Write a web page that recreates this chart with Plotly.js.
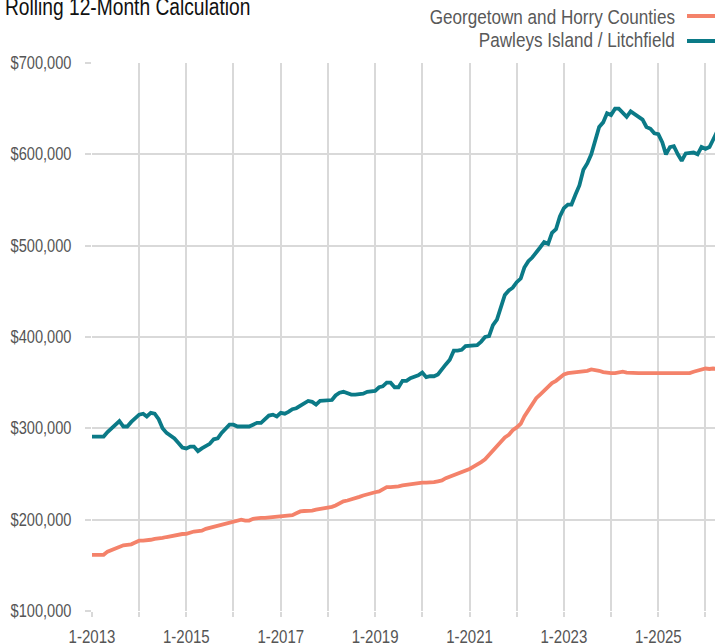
<!DOCTYPE html>
<html>
<head>
<meta charset="utf-8">
<script src="https://cdn.plot.ly/plotly-3.0.1.min.js"></script>
<style>
  html, body { margin: 0; padding: 0; overflow: hidden; background: #fff; width: 715px; height: 644px; }
  #chart { width: 740px; height: 644px; }
</style>
</head>
<body>
<div id="chart"></div>
<script>
// ---- Data (monthly, rolling 12-month median sales price, in $ thousands) ----
const startYear = 2013;
const seriesNames = ["Georgetown and Horry Counties", "Pawleys Island / Litchfield"];
const xTickLabels = ["1-2013", "1-2015", "1-2017", "1-2019", "1-2021", "1-2023", "1-2025"];
const yTickValues = [100000, 200000, 300000, 400000, 500000, 600000, 700000];
const yTickLabels = ["$100,000", "$200,000", "$300,000", "$400,000", "$500,000", "$600,000", "$700,000"];

const georgetownHorry = [
  161.5,161.5,161.5,161.5,165,167,168,171,172,172.5,173,175,           // 2013
  177,177,177,178,179,179,180,181,182,182.5,183.5,184.3,              // 2014
  184.5,186,187,187.5,188,190,191,192,193,195,196,197,                // 2015
  198,199,200,199,199,201,202,202,202,202.5,203,203.5,                // 2016
  203.7,203.7,204,205,207,209,209.5,209.5,210,211,211.5,212.5,        // 2017
  213,214,215.5,218,220,221,222,223,225,226.5,228,229,                // 2018
  230,231,233.5,235.6,235.6,235.6,236.5,237.5,238.3,238.5,239,240,    // 2019
  240.5,240.6,240.6,241,242,243,245.5,247,249,250.5,252,254,          // 2020
  255.5,258,260,263,266,271,276,281,286,290,293,298,                  // 2021
  301,305,313,320,326,333,337,341,346,349.5,352,355,                  // 2022
  359,360.5,361,361.5,361.5,363,363,364.5,364,363,361.5,360.5,        // 2023
  360.5,360.5,361.5,362,361,360.5,360.5,360.5,360.5,360.5,360.5,360.5,// 2024
  360.5,360.5,360.5,360.5,360.5,360.5,360.5,360.5,360.5,362,363,365,  // 2025
  365.5,365,365.5,365                                                 // 2026
];

const pawleysLitchfield = [
  291,291,291,291,296,300,303,308,302,302,307,311,                    // 2013
  315,316,313,317,316,310,300,295,292,289,284,279,                    // 2014
  278,280,280,275,278,281,283,288,289,295,299,304,                    // 2015
  304,302,302,302,302,304,306,306,310,314,315,313,                    // 2016
  317,316,318,321,322,325,327,330,329,326,330,330,                    // 2017
  330,331,336,339,340,338,337,337,337,338,340,340,                    // 2018
  341,345,346,350,350,345,345,352,352,355,356,358,                    // 2019
  361,356,357,357,359,365,370,375,385,385,386,390,                    // 2020
  390,390,391,395,400,401,413,419,432,446,451,454,                    // 2021
  460,464,476,483,487,492,498,504,502,514,518,532,                    // 2022
  541,545,545,556,566,583,590,600,615,630,635,645,                    // 2023
  643,650,650,645,641,647,644,642,638,630,628,623,                    // 2024
  622,613,600,608,609,600,593,601,602,602,600,608,                    // 2025
  606,608,616,625                                                     // 2026
];

// month axis categories
const months = [];
for (let i = 0; i < pawleysLitchfield.length; i++) {
  const y = startYear + Math.floor(i / 12);
  const m = (i % 12) + 1;
  months.push(y + "-" + String(m).padStart(2, "0") + "-01");
}
const xTickVals = xTickLabels.map(s => { const p = s.split("-"); return p[1] + "-" + String(p[0]).padStart(2,"0") + "-01"; });

const colorOrange = "#f4826a";
const colorTeal = "#0b7a87";
const gridColor = "#d9d9d9";
const fontFam = '"Liberation Sans", Arial, Helvetica, sans-serif';
const narrowScale = 0.835; // condensed look (reference uses a narrow Helvetica)

const traces = [
  { x: months, y: pawleysLitchfield.map(v => v * 1000), type: "scatter", mode: "lines",
    name: seriesNames[1], line: { color: colorTeal, width: 3.8 }, hoverinfo: "skip" },
  { x: months, y: georgetownHorry.map(v => v * 1000), type: "scatter", mode: "lines",
    name: seriesNames[0], line: { color: colorOrange, width: 3.8 }, hoverinfo: "skip" }
];

// geometry helpers for paper coords
const W = 740, H = 644;
const mL = 92, mR = 15, mT = 63, mB = 33;
const pw = W - mL - mR, ph = H - mT - mB;
const px = x => (x - mL) / pw;
const py = y => (H - mB - y) / ph;

const layout = {
  width: W, height: H,
  margin: { l: mL, r: mR, t: mT, b: mB, pad: 0 },
  paper_bgcolor: "#ffffff", plot_bgcolor: "#ffffff",
  showlegend: false,
  font: { family: fontFam, color: "#555555" },
  title: {
    text: "Rolling 12-Month Calculation",
    font: { family: fontFam, size: 23, color: "#111111" },
    x: 5 / W, xref: "container", xanchor: "left",
    y: 1 - 7 / H, yref: "container", yanchor: "middle"
  },
  xaxis: {
    type: "date",
    range: ["2013-01-01", "2026-06-01"],
    tickmode: "array", tickvals: xTickVals, ticktext: xTickLabels,
    showgrid: true, gridcolor: gridColor, gridwidth: 2,
    ticks: "outside", ticklen: 5, tickwidth: 2, tickcolor: gridColor,
    ticklabelstandoff: 4,
    tickfont: { family: fontFam, size: 18, color: "#555555" },
    showline: false, zeroline: false,
    minor: { tickvals: months.filter(d => d.endsWith("-01-01")), showgrid: true, gridcolor: gridColor, gridwidth: 2,
             ticks: "outside", ticklen: 5, tickwidth: 2, tickcolor: gridColor },
    fixedrange: true
  },
  yaxis: {
    range: [100000, 700000],
    tickmode: "array", tickvals: yTickValues, ticktext: yTickLabels,
    showgrid: true, gridcolor: gridColor, gridwidth: 2,
    ticks: "outside", ticklen: 6, tickwidth: 2, tickcolor: gridColor,
    ticklabelstandoff: 10,
    tickfont: { family: fontFam, size: 17.5, color: "#555555" },
    showline: false, zeroline: false,
    fixedrange: true
  },
  annotations: [
    { text: seriesNames[0], xref: "paper", yref: "paper", x: px(677), y: py(16.5), xanchor: "right", yanchor: "middle",
      align: "right", showarrow: false, font: { family: fontFam, size: 20.5, color: "#595959" } },
    { text: seriesNames[1], xref: "paper", yref: "paper", x: px(677), y: py(39), xanchor: "right", yanchor: "middle",
      align: "right", showarrow: false, font: { family: fontFam, size: 20.5, color: "#595959" } }
  ],
  shapes: [
    { type: "line", xref: "paper", yref: "paper", x0: px(687), x1: px(740), y0: py(16), y1: py(16),
      line: { color: colorOrange, width: 4 } },
    { type: "line", xref: "paper", yref: "paper", x0: px(687), x1: px(740), y0: py(41), y1: py(41),
      line: { color: colorTeal, width: 4 } }
  ]
};

Plotly.newPlot("chart", traces, layout, { displayModeBar: false, staticPlot: true }).then(gd => {
  // condense every text horizontally around its own anchor point
  gd.querySelectorAll("svg text").forEach(t => {
    const x = parseFloat(t.getAttribute("x")) || 0;
    const tr = t.getAttribute("transform") || "";
    t.setAttribute("transform", tr + " translate(" + x + ",0) scale(" + narrowScale + ",1) translate(" + (-x) + ",0)");
  });
});
</script>
</body>
</html>
